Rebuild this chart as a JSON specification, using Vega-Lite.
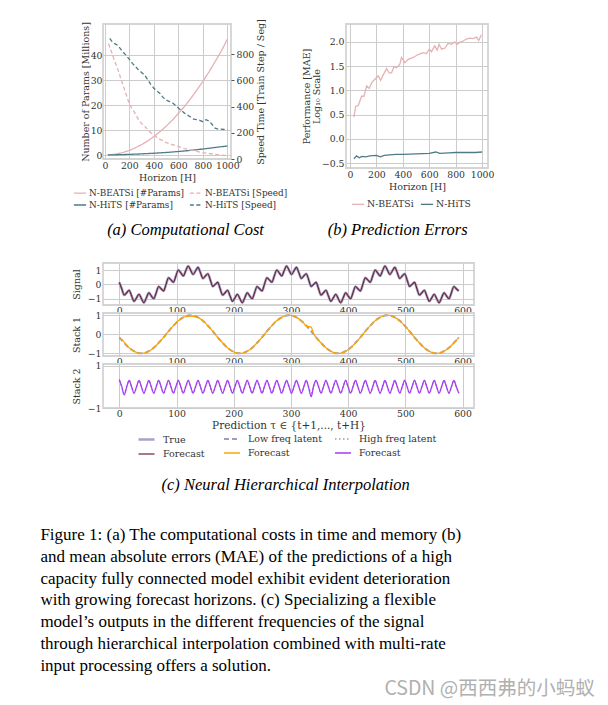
{
"$schema": "https://vega.github.io/schema/vega-lite/v6.json",
"background": "white",
"padding": {"left": 40, "top": 17, "right": 10, "bottom": 5},
"config": {
 "font": "DejaVu Serif",
 "view": {"stroke": "#d4d4d4", "strokeWidth": 1.8},
 "axis": {"labelFont": "DejaVu Serif", "titleFont": "DejaVu Serif", "labelFontSize": 9.3, "titleFontSize": 9.5, "titleFontWeight": "normal", "labelColor": "#333333", "titleColor": "#333333", "gridColor": "#cccccc", "gridWidth": 1, "domain": false, "ticks": false, "labelPadding": 2, "titlePadding": 2, "labelOverlap": false},
 "legend": {"labelFont": "DejaVu Serif", "labelFontSize": 9.3, "labelColor": "#333333", "symbolType": "stroke"},
 "title": {"font": "Liberation Serif", "fontWeight": "normal", "color": "black"}
},
"datasets": {
 "a": [
  {"h":24,"s":"N-BEATSi [#Params]","v":0.03},{"h":50,"s":"N-BEATSi [#Params]","v":0.12},{"h":100,"s":"N-BEATSi [#Params]","v":0.46},{"h":150,"s":"N-BEATSi [#Params]","v":1.03},{"h":200,"s":"N-BEATSi [#Params]","v":1.84},{"h":250,"s":"N-BEATSi [#Params]","v":2.88},{"h":300,"s":"N-BEATSi [#Params]","v":4.14},{"h":350,"s":"N-BEATSi [#Params]","v":5.64},{"h":400,"s":"N-BEATSi [#Params]","v":7.36},{"h":450,"s":"N-BEATSi [#Params]","v":9.32},{"h":500,"s":"N-BEATSi [#Params]","v":11.5},{"h":550,"s":"N-BEATSi [#Params]","v":13.9},{"h":600,"s":"N-BEATSi [#Params]","v":16.6},{"h":650,"s":"N-BEATSi [#Params]","v":19.4},{"h":700,"s":"N-BEATSi [#Params]","v":22.5},{"h":750,"s":"N-BEATSi [#Params]","v":25.9},{"h":800,"s":"N-BEATSi [#Params]","v":29.4},{"h":850,"s":"N-BEATSi [#Params]","v":33.2},{"h":900,"s":"N-BEATSi [#Params]","v":37.3},{"h":950,"s":"N-BEATSi [#Params]","v":41.5},{"h":1000,"s":"N-BEATSi [#Params]","v":46.3},
  {"h":24,"s":"N-HiTS [#Params]","v":0.05},{"h":100,"s":"N-HiTS [#Params]","v":0.1},{"h":200,"s":"N-HiTS [#Params]","v":0.25},{"h":300,"s":"N-HiTS [#Params]","v":0.45},{"h":400,"s":"N-HiTS [#Params]","v":0.7},{"h":500,"s":"N-HiTS [#Params]","v":1.0},{"h":600,"s":"N-HiTS [#Params]","v":1.4},{"h":700,"s":"N-HiTS [#Params]","v":1.85},{"h":800,"s":"N-HiTS [#Params]","v":2.4},{"h":900,"s":"N-HiTS [#Params]","v":3.0},{"h":1000,"s":"N-HiTS [#Params]","v":3.6},
  {"h":30,"s":"N-BEATSi [Speed]","v":880},{"h":50,"s":"N-BEATSi [Speed]","v":830},{"h":75,"s":"N-BEATSi [Speed]","v":760},{"h":100,"s":"N-BEATSi [Speed]","v":700},{"h":125,"s":"N-BEATSi [Speed]","v":630},{"h":150,"s":"N-BEATSi [Speed]","v":560},{"h":175,"s":"N-BEATSi [Speed]","v":490},{"h":200,"s":"N-BEATSi [Speed]","v":420},{"h":225,"s":"N-BEATSi [Speed]","v":380},{"h":250,"s":"N-BEATSi [Speed]","v":345},{"h":275,"s":"N-BEATSi [Speed]","v":300},{"h":300,"s":"N-BEATSi [Speed]","v":270},{"h":325,"s":"N-BEATSi [Speed]","v":250},{"h":350,"s":"N-BEATSi [Speed]","v":225},{"h":375,"s":"N-BEATSi [Speed]","v":200},{"h":400,"s":"N-BEATSi [Speed]","v":185},{"h":425,"s":"N-BEATSi [Speed]","v":165},{"h":450,"s":"N-BEATSi [Speed]","v":150},{"h":475,"s":"N-BEATSi [Speed]","v":140},{"h":500,"s":"N-BEATSi [Speed]","v":125},{"h":550,"s":"N-BEATSi [Speed]","v":110},{"h":600,"s":"N-BEATSi [Speed]","v":95},{"h":650,"s":"N-BEATSi [Speed]","v":80},{"h":700,"s":"N-BEATSi [Speed]","v":68},{"h":750,"s":"N-BEATSi [Speed]","v":58},{"h":800,"s":"N-BEATSi [Speed]","v":48},{"h":850,"s":"N-BEATSi [Speed]","v":42},{"h":900,"s":"N-BEATSi [Speed]","v":36},{"h":950,"s":"N-BEATSi [Speed]","v":30},{"h":1000,"s":"N-BEATSi [Speed]","v":26},
  {"h":40,"s":"N-HiTS [Speed]","v":920},{"h":60,"s":"N-HiTS [Speed]","v":895},{"h":80,"s":"N-HiTS [Speed]","v":880},{"h":100,"s":"N-HiTS [Speed]","v":870},{"h":120,"s":"N-HiTS [Speed]","v":850},{"h":150,"s":"N-HiTS [Speed]","v":815},{"h":175,"s":"N-HiTS [Speed]","v":790},{"h":200,"s":"N-HiTS [Speed]","v":760},{"h":225,"s":"N-HiTS [Speed]","v":730},{"h":250,"s":"N-HiTS [Speed]","v":705},{"h":275,"s":"N-HiTS [Speed]","v":680},{"h":300,"s":"N-HiTS [Speed]","v":660},{"h":325,"s":"N-HiTS [Speed]","v":640},{"h":350,"s":"N-HiTS [Speed]","v":605},{"h":375,"s":"N-HiTS [Speed]","v":570},{"h":400,"s":"N-HiTS [Speed]","v":540},{"h":425,"s":"N-HiTS [Speed]","v":520},{"h":450,"s":"N-HiTS [Speed]","v":500},{"h":475,"s":"N-HiTS [Speed]","v":470},{"h":500,"s":"N-HiTS [Speed]","v":450},{"h":525,"s":"N-HiTS [Speed]","v":440},{"h":550,"s":"N-HiTS [Speed]","v":430},{"h":575,"s":"N-HiTS [Speed]","v":410},{"h":600,"s":"N-HiTS [Speed]","v":390},{"h":625,"s":"N-HiTS [Speed]","v":370},{"h":650,"s":"N-HiTS [Speed]","v":350},{"h":675,"s":"N-HiTS [Speed]","v":335},{"h":700,"s":"N-HiTS [Speed]","v":320},{"h":725,"s":"N-HiTS [Speed]","v":305},{"h":750,"s":"N-HiTS [Speed]","v":300},{"h":775,"s":"N-HiTS [Speed]","v":295},{"h":800,"s":"N-HiTS [Speed]","v":285},{"h":825,"s":"N-HiTS [Speed]","v":300},{"h":850,"s":"N-HiTS [Speed]","v":290},{"h":875,"s":"N-HiTS [Speed]","v":265},{"h":900,"s":"N-HiTS [Speed]","v":235},{"h":925,"s":"N-HiTS [Speed]","v":228},{"h":950,"s":"N-HiTS [Speed]","v":228},{"h":975,"s":"N-HiTS [Speed]","v":225},{"h":1000,"s":"N-HiTS [Speed]","v":225}
 ],
 "b": [
  {"h":30,"m":"N-BEATSi","v":0.45},{"h":43,"m":"N-BEATSi","v":0.67},{"h":63,"m":"N-BEATSi","v":0.69},{"h":88,"m":"N-BEATSi","v":0.88},{"h":106,"m":"N-BEATSi","v":0.88},{"h":126,"m":"N-BEATSi","v":1.09},{"h":146,"m":"N-BEATSi","v":1.04},{"h":164,"m":"N-BEATSi","v":1.16},{"h":189,"m":"N-BEATSi","v":1.23},{"h":214,"m":"N-BEATSi","v":1.3},{"h":232,"m":"N-BEATSi","v":1.21},{"h":252,"m":"N-BEATSi","v":1.32},{"h":277,"m":"N-BEATSi","v":1.45},{"h":297,"m":"N-BEATSi","v":1.36},{"h":315,"m":"N-BEATSi","v":1.36},{"h":333,"m":"N-BEATSi","v":1.49},{"h":353,"m":"N-BEATSi","v":1.47},{"h":378,"m":"N-BEATSi","v":1.54},{"h":390,"m":"N-BEATSi","v":1.68},{"h":416,"m":"N-BEATSi","v":1.57},{"h":441,"m":"N-BEATSi","v":1.64},{"h":479,"m":"N-BEATSi","v":1.68},{"h":516,"m":"N-BEATSi","v":1.74},{"h":554,"m":"N-BEATSi","v":1.78},{"h":579,"m":"N-BEATSi","v":1.76},{"h":600,"m":"N-BEATSi","v":1.85},{"h":617,"m":"N-BEATSi","v":1.8},{"h":642,"m":"N-BEATSi","v":1.92},{"h":660,"m":"N-BEATSi","v":1.83},{"h":675,"m":"N-BEATSi","v":1.95},{"h":693,"m":"N-BEATSi","v":1.85},{"h":718,"m":"N-BEATSi","v":1.87},{"h":743,"m":"N-BEATSi","v":1.97},{"h":768,"m":"N-BEATSi","v":1.95},{"h":793,"m":"N-BEATSi","v":2.0},{"h":811,"m":"N-BEATSi","v":1.95},{"h":831,"m":"N-BEATSi","v":1.99},{"h":856,"m":"N-BEATSi","v":2.02},{"h":882,"m":"N-BEATSi","v":2.06},{"h":907,"m":"N-BEATSi","v":2.08},{"h":932,"m":"N-BEATSi","v":2.07},{"h":957,"m":"N-BEATSi","v":2.1},{"h":975,"m":"N-BEATSi","v":2.03},{"h":995,"m":"N-BEATSi","v":2.15},
  {"h":30,"m":"N-HiTS","v":-0.41},{"h":50,"m":"N-HiTS","v":-0.35},{"h":70,"m":"N-HiTS","v":-0.39},{"h":90,"m":"N-HiTS","v":-0.36},{"h":120,"m":"N-HiTS","v":-0.37},{"h":150,"m":"N-HiTS","v":-0.35},{"h":200,"m":"N-HiTS","v":-0.34},{"h":230,"m":"N-HiTS","v":-0.37},{"h":260,"m":"N-HiTS","v":-0.34},{"h":300,"m":"N-HiTS","v":-0.33},{"h":350,"m":"N-HiTS","v":-0.32},{"h":400,"m":"N-HiTS","v":-0.32},{"h":500,"m":"N-HiTS","v":-0.31},{"h":600,"m":"N-HiTS","v":-0.3},{"h":650,"m":"N-HiTS","v":-0.27},{"h":680,"m":"N-HiTS","v":-0.3},{"h":750,"m":"N-HiTS","v":-0.29},{"h":800,"m":"N-HiTS","v":-0.28},{"h":850,"m":"N-HiTS","v":-0.28},{"h":900,"m":"N-HiTS","v":-0.28},{"h":950,"m":"N-HiTS","v":-0.28},{"h":1000,"m":"N-HiTS","v":-0.27}
 ],
 "c": [
{"t":0,"S":0.14,"L":-0.16,"LF":-0.24,"H":0.3,"HF":0.35},
{"t":4.3,"S":-0.31,"L":-0.31,"LF":-0.27,"H":0,"HF":0.02},
{"t":8.6,"S":-0.75,"L":-0.45,"LF":-0.42,"H":-0.3,"HF":-0.38},
{"t":12.9,"S":-0.59,"L":-0.59,"LF":-0.59,"H":0,"HF":0},
{"t":17.2,"S":-0.41,"L":-0.71,"LF":-0.71,"H":0.3,"HF":0.3},
{"t":21.5,"S":-0.81,"L":-0.81,"LF":-0.81,"H":0,"HF":0},
{"t":25.8,"S":-1.19,"L":-0.89,"LF":-0.89,"H":-0.3,"HF":-0.3},
{"t":30.1,"S":-0.95,"L":-0.95,"LF":-0.95,"H":0,"HF":0},
{"t":34.4,"S":-0.69,"L":-0.99,"LF":-0.99,"H":0.3,"HF":0.3},
{"t":38.7,"S":-1,"L":-1,"LF":-1,"H":0,"HF":0},
{"t":43,"S":-1.29,"L":-0.99,"LF":-0.99,"H":-0.3,"HF":-0.3},
{"t":47.3,"S":-0.95,"L":-0.95,"LF":-0.95,"H":0,"HF":0},
{"t":51.6,"S":-0.59,"L":-0.89,"LF":-0.89,"H":0.3,"HF":0.3},
{"t":55.9,"S":-0.81,"L":-0.81,"LF":-0.81,"H":0,"HF":0},
{"t":60.2,"S":-1.01,"L":-0.71,"LF":-0.71,"H":-0.3,"HF":-0.3},
{"t":64.5,"S":-0.59,"L":-0.59,"LF":-0.59,"H":0,"HF":0},
{"t":68.8,"S":-0.15,"L":-0.45,"LF":-0.45,"H":0.3,"HF":0.3},
{"t":73.1,"S":-0.31,"L":-0.31,"LF":-0.31,"H":0,"HF":0},
{"t":77.4,"S":-0.46,"L":-0.16,"LF":-0.16,"H":-0.3,"HF":-0.3},
{"t":81.7,"S":0,"L":0,"LF":0,"H":0,"HF":0},
{"t":86,"S":0.46,"L":0.16,"LF":0.16,"H":0.3,"HF":0.3},
{"t":90.3,"S":0.31,"L":0.31,"LF":0.31,"H":0,"HF":0},
{"t":94.6,"S":0.15,"L":0.45,"LF":0.45,"H":-0.3,"HF":-0.3},
{"t":98.9,"S":0.59,"L":0.59,"LF":0.59,"H":0,"HF":0},
{"t":103.2,"S":1.01,"L":0.71,"LF":0.71,"H":0.3,"HF":0.3},
{"t":107.5,"S":0.81,"L":0.81,"LF":0.81,"H":0,"HF":0},
{"t":111.8,"S":0.59,"L":0.89,"LF":0.89,"H":-0.3,"HF":-0.3},
{"t":116.1,"S":0.95,"L":0.95,"LF":0.93,"H":0,"HF":0},
{"t":120.4,"S":1.29,"L":0.99,"LF":0.95,"H":0.3,"HF":0.3},
{"t":124.7,"S":1,"L":1,"LF":0.96,"H":0,"HF":0},
{"t":129,"S":0.69,"L":0.99,"LF":0.95,"H":-0.3,"HF":-0.3},
{"t":133.3,"S":0.95,"L":0.95,"LF":0.92,"H":0,"HF":0},
{"t":137.6,"S":1.19,"L":0.89,"LF":0.89,"H":0.3,"HF":0.3},
{"t":141.9,"S":0.81,"L":0.81,"LF":0.81,"H":0,"HF":0},
{"t":146.2,"S":0.41,"L":0.71,"LF":0.71,"H":-0.3,"HF":-0.3},
{"t":150.5,"S":0.59,"L":0.59,"LF":0.59,"H":0,"HF":0},
{"t":154.8,"S":0.75,"L":0.45,"LF":0.45,"H":0.3,"HF":0.3},
{"t":159.1,"S":0.31,"L":0.31,"LF":0.31,"H":0,"HF":0},
{"t":163.4,"S":-0.14,"L":0.16,"LF":0.16,"H":-0.3,"HF":-0.3},
{"t":167.7,"S":0,"L":0,"LF":0,"H":0,"HF":0},
{"t":172,"S":0.14,"L":-0.16,"LF":-0.16,"H":0.3,"HF":0.3},
{"t":176.3,"S":-0.31,"L":-0.31,"LF":-0.31,"H":0,"HF":0},
{"t":180.6,"S":-0.75,"L":-0.45,"LF":-0.45,"H":-0.3,"HF":-0.3},
{"t":184.9,"S":-0.59,"L":-0.59,"LF":-0.59,"H":0,"HF":0},
{"t":189.2,"S":-0.41,"L":-0.71,"LF":-0.71,"H":0.3,"HF":0.3},
{"t":193.5,"S":-0.81,"L":-0.81,"LF":-0.81,"H":0,"HF":0},
{"t":197.8,"S":-1.19,"L":-0.89,"LF":-0.89,"H":-0.3,"HF":-0.3},
{"t":202.1,"S":-0.95,"L":-0.95,"LF":-0.95,"H":0,"HF":0},
{"t":206.4,"S":-0.69,"L":-0.99,"LF":-0.99,"H":0.3,"HF":0.3},
{"t":210.7,"S":-1,"L":-1,"LF":-1,"H":0,"HF":0},
{"t":215,"S":-1.29,"L":-0.99,"LF":-0.99,"H":-0.3,"HF":-0.3},
{"t":219.3,"S":-0.95,"L":-0.95,"LF":-0.95,"H":0,"HF":0},
{"t":223.6,"S":-0.59,"L":-0.89,"LF":-0.89,"H":0.3,"HF":0.3},
{"t":227.9,"S":-0.81,"L":-0.81,"LF":-0.81,"H":0,"HF":0},
{"t":232.2,"S":-1.01,"L":-0.71,"LF":-0.71,"H":-0.3,"HF":-0.3},
{"t":236.5,"S":-0.59,"L":-0.59,"LF":-0.59,"H":0,"HF":0},
{"t":240.8,"S":-0.15,"L":-0.45,"LF":-0.45,"H":0.3,"HF":0.3},
{"t":245.1,"S":-0.31,"L":-0.31,"LF":-0.31,"H":0,"HF":0},
{"t":249.4,"S":-0.46,"L":-0.16,"LF":-0.16,"H":-0.3,"HF":-0.3},
{"t":253.7,"S":0,"L":0,"LF":0,"H":0,"HF":0},
{"t":258,"S":0.46,"L":0.16,"LF":0.16,"H":0.3,"HF":0.3},
{"t":262.3,"S":0.31,"L":0.31,"LF":0.31,"H":0,"HF":0},
{"t":266.6,"S":0.15,"L":0.45,"LF":0.45,"H":-0.3,"HF":-0.3},
{"t":270.9,"S":0.59,"L":0.59,"LF":0.59,"H":0,"HF":0},
{"t":275.2,"S":1.01,"L":0.71,"LF":0.71,"H":0.3,"HF":0.3},
{"t":279.5,"S":0.81,"L":0.81,"LF":0.81,"H":0,"HF":0},
{"t":283.8,"S":0.59,"L":0.89,"LF":0.89,"H":-0.3,"HF":-0.3},
{"t":288.1,"S":0.95,"L":0.95,"LF":0.95,"H":0,"HF":0},
{"t":292.4,"S":1.29,"L":0.99,"LF":0.99,"H":0.3,"HF":0.3},
{"t":296.7,"S":1,"L":1,"LF":1,"H":0,"HF":0},
{"t":301,"S":0.69,"L":0.99,"LF":0.99,"H":-0.3,"HF":-0.3},
{"t":305.3,"S":0.95,"L":0.95,"LF":0.95,"H":0,"HF":0},
{"t":309.6,"S":1.19,"L":0.89,"LF":0.89,"H":0.3,"HF":0.3},
{"t":313.9,"S":0.81,"L":0.81,"LF":0.81,"H":0,"HF":0},
{"t":318.2,"S":0.41,"L":0.71,"LF":0.71,"H":-0.3,"HF":-0.3},
{"t":322.5,"S":0.59,"L":0.59,"LF":0.59,"H":0,"HF":0},
{"t":326.8,"S":0.75,"L":0.45,"LF":0.42,"H":0.3,"HF":0.3},
{"t":331.1,"S":0.31,"L":0.31,"LF":0.41,"H":0,"HF":-0.05},
{"t":335.4,"S":-0.14,"L":0.16,"LF":0.38,"H":-0.3,"HF":-0.47},
{"t":339.7,"S":0,"L":0,"LF":0.03,"H":0,"HF":0.05},
{"t":344,"S":0.14,"L":-0.16,"LF":-0.16,"H":0.3,"HF":0.3},
{"t":348.3,"S":-0.31,"L":-0.31,"LF":-0.31,"H":0,"HF":0},
{"t":352.6,"S":-0.75,"L":-0.45,"LF":-0.45,"H":-0.3,"HF":-0.3},
{"t":356.9,"S":-0.59,"L":-0.59,"LF":-0.59,"H":0,"HF":0},
{"t":361.2,"S":-0.41,"L":-0.71,"LF":-0.71,"H":0.3,"HF":0.3},
{"t":365.5,"S":-0.81,"L":-0.81,"LF":-0.81,"H":0,"HF":0},
{"t":369.8,"S":-1.19,"L":-0.89,"LF":-0.89,"H":-0.3,"HF":-0.3},
{"t":374.1,"S":-0.95,"L":-0.95,"LF":-0.95,"H":0,"HF":0},
{"t":378.4,"S":-0.69,"L":-0.99,"LF":-0.99,"H":0.3,"HF":0.3},
{"t":382.7,"S":-1,"L":-1,"LF":-1,"H":0,"HF":0},
{"t":387,"S":-1.29,"L":-0.99,"LF":-0.99,"H":-0.3,"HF":-0.3},
{"t":391.3,"S":-0.95,"L":-0.95,"LF":-0.95,"H":0,"HF":0},
{"t":395.6,"S":-0.59,"L":-0.89,"LF":-0.89,"H":0.3,"HF":0.3},
{"t":399.9,"S":-0.81,"L":-0.81,"LF":-0.81,"H":0,"HF":0},
{"t":404.2,"S":-1.01,"L":-0.71,"LF":-0.71,"H":-0.3,"HF":-0.3},
{"t":408.5,"S":-0.59,"L":-0.59,"LF":-0.59,"H":0,"HF":0},
{"t":412.8,"S":-0.15,"L":-0.45,"LF":-0.45,"H":0.3,"HF":0.3},
{"t":417.1,"S":-0.31,"L":-0.31,"LF":-0.31,"H":0,"HF":0},
{"t":421.4,"S":-0.46,"L":-0.16,"LF":-0.16,"H":-0.3,"HF":-0.3},
{"t":425.7,"S":0,"L":0,"LF":0,"H":0,"HF":0},
{"t":430,"S":0.46,"L":0.16,"LF":0.16,"H":0.3,"HF":0.3},
{"t":434.3,"S":0.31,"L":0.31,"LF":0.31,"H":0,"HF":0},
{"t":438.6,"S":0.15,"L":0.45,"LF":0.45,"H":-0.3,"HF":-0.3},
{"t":442.9,"S":0.59,"L":0.59,"LF":0.59,"H":0,"HF":0},
{"t":447.2,"S":1.01,"L":0.71,"LF":0.71,"H":0.3,"HF":0.3},
{"t":451.5,"S":0.81,"L":0.81,"LF":0.81,"H":0,"HF":0},
{"t":455.8,"S":0.59,"L":0.89,"LF":0.89,"H":-0.3,"HF":-0.3},
{"t":460.1,"S":0.95,"L":0.95,"LF":0.95,"H":0,"HF":0},
{"t":464.4,"S":1.29,"L":0.99,"LF":0.99,"H":0.3,"HF":0.3},
{"t":468.7,"S":1,"L":1,"LF":1,"H":0,"HF":0},
{"t":473,"S":0.69,"L":0.99,"LF":0.99,"H":-0.3,"HF":-0.3},
{"t":477.3,"S":0.95,"L":0.95,"LF":0.95,"H":0,"HF":0},
{"t":481.6,"S":1.19,"L":0.89,"LF":0.89,"H":0.3,"HF":0.3},
{"t":485.9,"S":0.81,"L":0.81,"LF":0.81,"H":0,"HF":0},
{"t":490.2,"S":0.41,"L":0.71,"LF":0.71,"H":-0.3,"HF":-0.3},
{"t":494.5,"S":0.59,"L":0.59,"LF":0.59,"H":0,"HF":0},
{"t":498.8,"S":0.75,"L":0.45,"LF":0.45,"H":0.3,"HF":0.3},
{"t":503.1,"S":0.31,"L":0.31,"LF":0.31,"H":0,"HF":0},
{"t":507.4,"S":-0.14,"L":0.16,"LF":0.16,"H":-0.3,"HF":-0.3},
{"t":511.7,"S":0,"L":0,"LF":0,"H":0,"HF":0},
{"t":516,"S":0.14,"L":-0.16,"LF":-0.16,"H":0.3,"HF":0.3},
{"t":520.3,"S":-0.31,"L":-0.31,"LF":-0.31,"H":0,"HF":0},
{"t":524.6,"S":-0.75,"L":-0.45,"LF":-0.45,"H":-0.3,"HF":-0.3},
{"t":528.9,"S":-0.59,"L":-0.59,"LF":-0.59,"H":0,"HF":0},
{"t":533.2,"S":-0.41,"L":-0.71,"LF":-0.71,"H":0.3,"HF":0.3},
{"t":537.5,"S":-0.81,"L":-0.81,"LF":-0.81,"H":0,"HF":0},
{"t":541.8,"S":-1.19,"L":-0.89,"LF":-0.89,"H":-0.3,"HF":-0.3},
{"t":546.1,"S":-0.95,"L":-0.95,"LF":-0.95,"H":0,"HF":0},
{"t":550.4,"S":-0.69,"L":-0.99,"LF":-0.99,"H":0.3,"HF":0.3},
{"t":554.7,"S":-1,"L":-1,"LF":-1,"H":0,"HF":0},
{"t":559,"S":-1.29,"L":-0.99,"LF":-0.99,"H":-0.3,"HF":-0.3},
{"t":563.3,"S":-0.95,"L":-0.95,"LF":-0.95,"H":0,"HF":0},
{"t":567.6,"S":-0.59,"L":-0.89,"LF":-0.89,"H":0.3,"HF":0.3},
{"t":571.9,"S":-0.81,"L":-0.81,"LF":-0.81,"H":0,"HF":0},
{"t":576.2,"S":-1.01,"L":-0.71,"LF":-0.71,"H":-0.3,"HF":-0.3},
{"t":580.5,"S":-0.59,"L":-0.59,"LF":-0.59,"H":0,"HF":0},
{"t":584.8,"S":-0.15,"L":-0.45,"LF":-0.45,"H":0.3,"HF":0.3},
{"t":589.1,"S":-0.31,"L":-0.31,"LF":-0.31,"H":0,"HF":0},
{"t":593.4,"S":-0.46,"L":-0.16,"LF":-0.16,"H":-0.3,"HF":-0.3}
 ]
},
"title": {"text": "CSDN @西西弗的小蚂蚁", "orient": "bottom", "anchor": "end", "font": "Noto Sans CJK SC", "fontSize": 19.5, "color": "#b0b0b0", "offset": 6, "dx": 100},
"resolve": {"scale": {"color": "independent", "strokeDash": "independent", "strokeWidth": "independent"}},
"vconcat": [
 {
  "title": {"text": ["Figure 1: (a) The computational costs in time and memory (b)", "and mean absolute errors (MAE) of the predictions of a high", "capacity fully connected model exhibit evident deterioration", "with growing forecast horizons. (c) Specializing a flexible", "model’s outputs in the different frequencies of the signal", "through hierarchical interpolation combined with multi-rate", "input processing offers a solution."], "orient": "bottom", "anchor": "start", "align": "left", "font": "Liberation Serif", "fontSize": 17, "lineHeight": 21.7, "color": "black", "offset": 34, "dx": -30},
  "spacing": 19,
  "resolve": {"scale": {"color": "independent", "strokeDash": "independent", "strokeWidth": "independent"}},
  "vconcat": [
   {
    "spacing": 11,
    "align": "none",
    "resolve": {"scale": {"color": "independent", "strokeDash": "independent"}},
    "hconcat": [
     {
      "width": 128, "height": 135,
      "title": {"text": "(a) Computational Cost", "orient": "bottom", "fontStyle": "italic", "fontSize": 16.5, "offset": 12, "frame": "bounds", "dx": 5},
      "data": {"name": "a"},
      "layer": [
       {
        "transform": [{"filter": {"field": "s", "oneOf": ["N-BEATSi [#Params]", "N-HiTS [#Params]"]}}],
        "mark": {"type": "line", "strokeWidth": 1.3},
        "encoding": {
         "x": {"field": "h", "type": "quantitative", "scale": {"domain": [-15, 1030], "nice": false, "zero": false}, "axis": {"values": [0, 200, 400, 600, 800, 1000], "format": "d", "title": "Horizon [H]", "labelOverlap": false}},
         "y": {"field": "v", "type": "quantitative", "scale": {"domain": [-1.6, 52.4], "nice": false, "zero": false}, "axis": {"values": [0, 10, 20, 30, 40], "title": "Number of Params [Millions]", "titlePadding": 0, "labelPadding": 1}},
         "color": {"field": "s", "type": "nominal", "scale": {"domain": ["N-BEATSi [#Params]", "N-HiTS [#Params]", "N-BEATSi [Speed]", "N-HiTS [Speed]"], "range": ["#e6b1b5", "#4d7c86", "#e6b1b5", "#4d7c86"]}, "legend": {"title": null, "orient": "none", "legendX": -30, "legendY": 162, "columns": 2, "symbolSize": 150, "symbolStrokeWidth": 1.3, "columnPadding": 2, "rowPadding": 0, "labelOffset": 2, "labelFontSize": 8.9}},
         "strokeDash": {"field": "s", "type": "nominal", "scale": {"domain": ["N-BEATSi [#Params]", "N-HiTS [#Params]", "N-BEATSi [Speed]", "N-HiTS [Speed]"], "range": [[1, 0], [1, 0], [4, 2.5], [4, 2.5]]}}
        }
       },
       {
        "transform": [{"filter": {"field": "s", "oneOf": ["N-BEATSi [Speed]", "N-HiTS [Speed]"]}}],
        "mark": {"type": "line", "strokeWidth": 1.3},
        "encoding": {
         "x": {"field": "h", "type": "quantitative", "scale": {"domain": [-15, 1030], "nice": false, "zero": false}, "axis": {"values": [0, 200, 400, 600, 800, 1000], "format": "d", "title": "Horizon [H]", "labelOverlap": false}},
         "y": {"field": "v", "type": "quantitative", "scale": {"domain": [0, 1030], "nice": false, "zero": false}, "axis": {"orient": "right", "values": [0, 200, 400, 600, 800], "title": "Speed Time [Train Step / Seg]", "grid": false, "ticks": true, "tickSize": 3, "tickColor": "#555555", "titleAngle": 270, "titleBaseline": "top"}},
         "color": {"field": "s", "type": "nominal", "scale": {"domain": ["N-BEATSi [#Params]", "N-HiTS [#Params]", "N-BEATSi [Speed]", "N-HiTS [Speed]"], "range": ["#e6b1b5", "#4d7c86", "#e6b1b5", "#4d7c86"]}},
         "strokeDash": {"field": "s", "type": "nominal", "scale": {"domain": ["N-BEATSi [#Params]", "N-HiTS [#Params]", "N-BEATSi [Speed]", "N-HiTS [Speed]"], "range": [[1, 0], [1, 0], [4, 2.5], [4, 2.5]]}}
        }
       }
      ],
      "resolve": {"scale": {"y": "independent"}}
     },
     {
      "width": 142, "height": 144,
      "title": {"text": "(b) Prediction Errors", "orient": "bottom", "fontStyle": "italic", "fontSize": 16.5, "offset": 12, "frame": "bounds"},
      "data": {"name": "b"},
      "mark": {"type": "line", "strokeWidth": 1.3},
      "encoding": {
       "x": {"field": "h", "type": "quantitative", "scale": {"domain": [-30, 1045], "nice": false, "zero": false}, "axis": {"values": [0, 200, 400, 600, 800, 1000], "format": "d", "title": "Horizon [H]", "labelOverlap": false}},
       "y": {"field": "v", "type": "quantitative", "scale": {"domain": [-0.6, 2.37], "nice": false, "zero": false}, "axis": {"values": [-0.5, 0, 0.5, 1, 1.5, 2], "format": ".1f", "title": ["Performance [MAE]", "Log₁₀ Scale"], "titlePadding": 0, "titleLineHeight": 10}},
       "color": {"field": "m", "type": "nominal", "scale": {"domain": ["N-BEATSi", "N-HiTS"], "range": ["#e6b1b5", "#4d7c86"]}, "legend": {"title": null, "orient": "none", "legendX": 5, "legendY": 173, "direction": "horizontal", "symbolSize": 150, "symbolStrokeWidth": 1.3, "columnPadding": 4, "labelOffset": 2}}
      }
     }
    ]
   },
   {
    "title": {"text": "(c) Neural Hierarchical Interpolation", "orient": "bottom", "anchor": "middle", "frame": "bounds", "fontStyle": "italic", "fontSize": 16.5, "offset": 17, "dx": 13},
    "spacing": 8,
    "bounds": "flush",
    "resolve": {"scale": {"color": "independent", "strokeDash": "independent", "strokeWidth": "independent"}},
    "vconcat": [
     {
      "width": 371, "height": 42,
      "data": {"name": "c"},
      "encoding": {
       "x": {"field": "t", "type": "quantitative", "scale": {"domain": [-28.5, 620], "nice": false, "zero": false}, "axis": {"values": [0, 100, 200, 300, 400, 500, 600], "title": null, "labelPadding": 1}},
       "y": {"field": "S", "type": "quantitative", "scale": {"domain": [-1.45, 1.5], "nice": false, "zero": false}, "axis": {"values": [-1, 0, 1], "format": "d", "title": "Signal", "titlePadding": 6}}
      },
      "layer": [
       {"mark": {"type": "line", "color": "#a3a3c9", "strokeWidth": 2.6, "interpolate": "monotone"}},
       {"mark": {"type": "line", "color": "#6b2232", "strokeWidth": 1.1, "interpolate": "monotone"}}
      ]
     },
     {
      "width": 371, "height": 43,
      "data": {"name": "c"},
      "encoding": {
       "x": {"field": "t", "type": "quantitative", "scale": {"domain": [-28.5, 620], "nice": false, "zero": false}, "axis": {"values": [0, 100, 200, 300, 400, 500, 600], "title": null, "labelPadding": 1}}
      },
      "layer": [
       {"mark": {"type": "line", "color": "#9c9cc0", "strokeWidth": 2, "strokeDash": [5, 3], "interpolate": "monotone"},
        "encoding": {"y": {"field": "L", "type": "quantitative", "scale": {"domain": [-1.14, 1.12], "nice": false, "zero": false}, "axis": {"values": [-1, 0, 1], "format": "d", "title": "Stack 1", "titlePadding": 6}}}},
       {"mark": {"type": "line", "color": "#ffa500", "strokeWidth": 1.3, "interpolate": "monotone"},
        "encoding": {"y": {"field": "LF", "type": "quantitative", "scale": {"domain": [-1.14, 1.12], "nice": false, "zero": false}, "axis": {"values": [-1, 0, 1], "format": "d", "title": "Stack 1", "titlePadding": 6}}}}
      ]
     },
     {
      "width": 371, "height": 44,
      "data": {"name": "c"},
      "encoding": {
       "x": {"field": "t", "type": "quantitative", "scale": {"domain": [-28.5, 620], "nice": false, "zero": false}, "axis": {"values": [0, 100, 200, 300, 400, 500, 600], "title": "Prediction τ ∈ {t+1,..., t+H}", "titleFontSize": 10.5, "labelPadding": 1}}
      },
      "layer": [
       {"mark": {"type": "line", "color": "#9c9cbd", "strokeWidth": 1.5, "strokeDash": [1.5, 2.5], "interpolate": "monotone"},
        "encoding": {"y": {"field": "H", "type": "quantitative", "scale": {"domain": [-1, 1.08], "nice": false, "zero": false}, "axis": {"values": [-1, 0, 1], "format": "d", "title": "Stack 2", "titlePadding": 6}}}},
       {"mark": {"type": "line", "color": "#a63df2", "strokeWidth": 1.3, "interpolate": "monotone"},
        "encoding": {"y": {"field": "HF", "type": "quantitative", "scale": {"domain": [-1, 1.08], "nice": false, "zero": false}, "axis": {"values": [-1, 0, 1], "format": "d", "title": "Stack 2", "titlePadding": 6}}}},
       {"transform": [{"filter": "datum.t > 9999"}],
        "mark": {"type": "line"},
        "encoding": {"y": {"field": "H", "type": "quantitative", "scale": {"domain": [-1, 1.08], "nice": false, "zero": false}, "axis": {"values": [-1, 0, 1], "format": "d", "title": "Stack 2", "titlePadding": 6}},
         "color": {"field": "g1", "type": "nominal", "scale": {"domain": ["True", "Forecast"], "range": ["#a3a3c9", "#6b2232"]}, "legend": {"title": null, "orient": "none", "legendX": 34, "legendY": 66, "symbolSize": 256, "rowPadding": 0, "labelOffset": 7, "labelFontSize": 9.5}},
         "strokeWidth": {"field": "g1", "type": "nominal", "scale": {"domain": ["True", "Forecast"], "range": [2.5, 1.2]}}}},
       {"transform": [{"filter": "datum.t > 9999"}],
        "mark": {"type": "line"},
        "encoding": {"y": {"field": "H", "type": "quantitative", "scale": {"domain": [-1, 1.08], "nice": false, "zero": false}, "axis": {"values": [-1, 0, 1], "format": "d", "title": "Stack 2", "titlePadding": 6}},
         "color": {"field": "g2", "type": "nominal", "scale": {"domain": ["Low freq latent", "Forecast"], "range": ["#9c9cc0", "#ffa500"]}, "legend": {"title": null, "orient": "none", "legendX": 120, "legendY": 66, "symbolSize": 256, "rowPadding": 0, "labelOffset": 7, "labelFontSize": 9.5}},
         "strokeDash": {"field": "g2", "type": "nominal", "scale": {"domain": ["Low freq latent", "Forecast"], "range": [[5, 3], [1, 0]]}},
         "strokeWidth": {"field": "g2", "type": "nominal", "scale": {"domain": ["Low freq latent", "Forecast"], "range": [2, 1.3]}}}},
       {"transform": [{"filter": "datum.t > 9999"}],
        "mark": {"type": "line"},
        "encoding": {"y": {"field": "H", "type": "quantitative", "scale": {"domain": [-1, 1.08], "nice": false, "zero": false}, "axis": {"values": [-1, 0, 1], "format": "d", "title": "Stack 2", "titlePadding": 6}},
         "color": {"field": "g3", "type": "nominal", "scale": {"domain": ["High freq latent", "Forecast"], "range": ["#9c9cbd", "#a63df2"]}, "legend": {"title": null, "orient": "none", "legendX": 231, "legendY": 66, "symbolSize": 256, "rowPadding": 0, "labelOffset": 7, "labelFontSize": 9.5}},
         "strokeDash": {"field": "g3", "type": "nominal", "scale": {"domain": ["High freq latent", "Forecast"], "range": [[1.5, 2.5], [1, 0]]}},
         "strokeWidth": {"field": "g3", "type": "nominal", "scale": {"domain": ["High freq latent", "Forecast"], "range": [1.5, 1.3]}}}}
      ],
      "resolve": {"scale": {"color": "independent", "strokeDash": "independent", "strokeWidth": "independent"}}
     }
    ]
   }
  ]
 }
]
}
